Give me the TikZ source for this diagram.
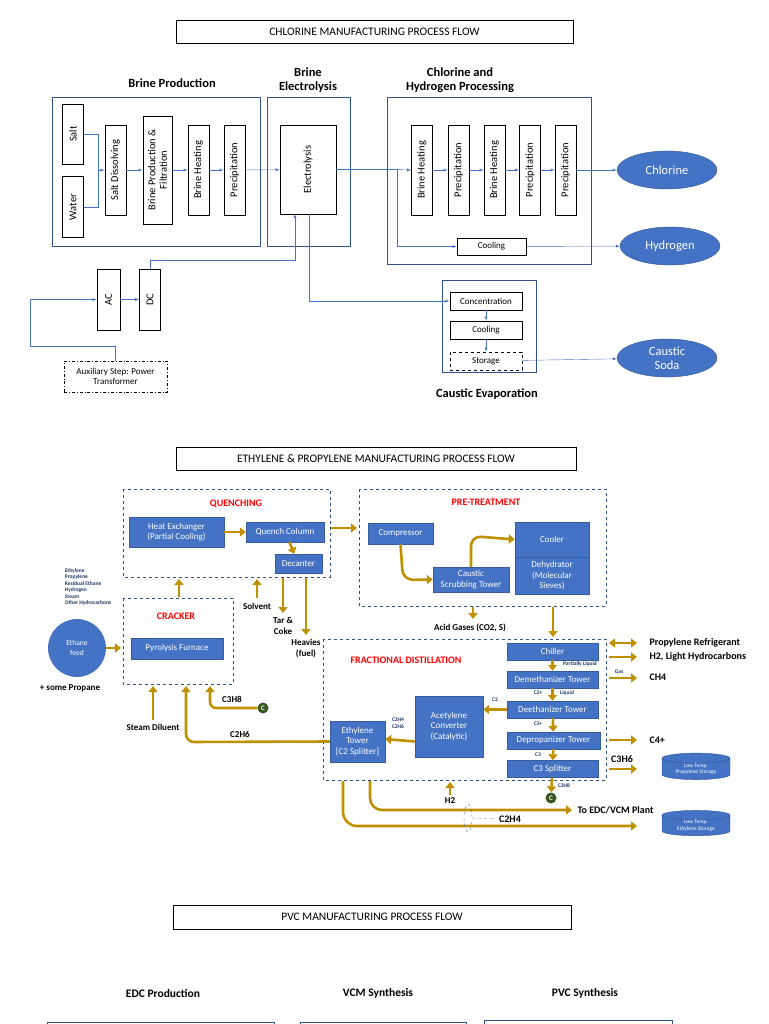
\documentclass[tikz,border=0pt]{standalone}
\usepackage{fontspec}
\setmainfont{Carlito}
\usetikzlibrary{shapes.geometric,arrows.meta}
\definecolor{boxblue}{HTML}{4472C4}
\definecolor{edgeblue}{HTML}{2F528F}
\definecolor{gold}{HTML}{BF9000}
\definecolor{cgreen}{HTML}{385723}
\definecolor{navy}{HTML}{1F3864}
\begin{document}
\begin{tikzpicture}[x=1pt,y=-1pt,
	title/.style={draw, thick, minimum width=397pt, minimum height=23pt, font=\fontsize{11.5}{13}\selectfont},
	frame/.style={draw=edgeblue, thick},
	head/.style={font=\bfseries\fontsize{12.5}{14}\selectfont, align=center},
	vbox/.style={draw, thick, rotate=90, minimum height=21pt, inner sep=1pt, align=center, font=\fontsize{10.5}{11.5}\selectfont},
	hbox/.style={draw, thick, minimum width=72pt, minimum height=18pt, inner sep=1pt, font=\fontsize{9}{10}\selectfont},
	prod/.style={ellipse, fill=boxblue, draw=edgeblue, text=white, minimum width=100pt, minimum height=38pt, inner sep=0pt, align=center, font=\fontsize{12.5}{13.5}\selectfont},
	bline/.style={draw=boxblue, -latex},
	unit/.style={fill=boxblue, draw=boxblue!80!black, text=white, inner sep=1pt, align=center, font=\fontsize{9}{10.5}\selectfont},
	zone/.style={draw=edgeblue, dashed},
	zlabel/.style={text=red, font=\bfseries\fontsize{10}{11}\selectfont},
	flow/.style={draw=gold, line width=2.6pt, -{Triangle[length=6pt,width=9pt]}},
	lbl/.style={font=\bfseries\fontsize{9}{10.5}\selectfont, align=center},
	tiny/.style={text=navy, font=\bfseries\fontsize{5.5}{6.5}\selectfont, align=left},
	tank/.style={cylinder, shape border rotate=90, aspect=0.25, fill=boxblue, draw=edgeblue, text=white, minimum width=68pt, minimum height=25pt, inner sep=0pt, align=center, font=\fontsize{5.5}{6.5}\selectfont},
	cnode/.style={circle, fill=cgreen, text=white, inner sep=0pt, minimum size=11pt, font=\bfseries\fontsize{7}{7}\selectfont}]
\useasboundingbox (0,0) rectangle (768,1024);

% chlorine
\node[title] (t1) at (374.5,31.5) {CHLORINE MANUFACTURING PROCESS FLOW};
\draw[frame] (52,97) rectangle (260,246);
\draw[frame] (267,97) rectangle (350,246);
\draw[frame] (387,97) rectangle (591,264);
\draw[frame] (442,280) rectangle (536,372);
\node[head] at (172,83) {Brine Production};
\node[head] at (308,80) {Brine\\Electrolysis};
\node[head] at (460,80) {Chlorine and\\Hydrogen Processing};
\node[head] at (487,394) {Caustic Evaporation};

\node[vbox, minimum width=60pt] (salt) at (73,134) {Salt};
\node[vbox, minimum width=61pt] (water) at (73,207) {Water};
\node[vbox, minimum width=90pt] (sd) at (115.5,170) {Salt Dissolving};
\node[vbox, minimum width=108pt, minimum height=29pt] (bpf) at (157.5,170) {Brine Production \&\\Filtration};
\node[vbox, minimum width=90pt] (bh1) at (198.5,170) {Brine Heating};
\node[vbox, minimum width=90pt] (pr1) at (234.5,170) {Precipitation};
\node[vbox, minimum width=89pt, minimum height=56pt] (elec) at (308,169.5) {Electrolysis};
\node[vbox, minimum width=90pt] (bh2) at (422,170) {Brine Heating};
\node[vbox, minimum width=90pt] (pr2) at (458.5,170) {Precipitation};
\node[vbox, minimum width=90pt] (bh3) at (494.5,170) {Brine Heating};
\node[vbox, minimum width=90pt] (pr3) at (530,170) {Precipitation};
\node[vbox, minimum width=90pt] (pr4) at (565.5,170) {Precipitation};
\node[hbox, minimum width=69pt, minimum height=17pt] (cool1) at (491.5,246.5) {Cooling};
\node[hbox] (conc) at (486,301) {Concentration};
\node[hbox] (cool2) at (486,330) {Cooling};
\node[hbox, dashed] (stor) at (486,361) {Storage};
\node[vbox, minimum width=61pt, minimum height=23pt] (ac) at (108.5,299.5) {AC};
\node[vbox, minimum width=61pt] (dc) at (150,299.5) {DC};
\node[draw, thick, dash dot, minimum width=103pt, minimum height=31pt, align=center, font=\fontsize{9}{10.5}\selectfont] (aux) at (115.5,376.5) {Auxiliary Step: Power\\Transformer};
\node[prod] (chl) at (667,170) {Chlorine};
\node[prod] (hyd) at (670,246) {Hydrogen};
\node[prod] (soda) at (667,358) {Caustic\\Soda};

\coordinate (j1) at (98,170);
\draw[draw=boxblue] (salt.south) -| (j1);
\draw[draw=boxblue] (water.south) -| (j1);
\draw[bline] (j1) -- (sd.north);
\draw[bline] (sd) -- (bpf);
\draw[bline] (bpf) -- (bh1);
\draw[bline] (bh1) -- (pr1);
\draw[bline] (pr1) -- (elec);
\coordinate (j2) at (397,169.5);
\draw[draw=boxblue] (elec.south) -- (j2);
\draw[bline] (j2) -- (bh2.north);
\draw[bline] (j2) |- (cool1);
\draw[bline] (bh2) -- (pr2);
\draw[bline] (pr2) -- (bh3);
\draw[bline] (bh3) -- (pr3);
\draw[bline] (pr3) -- (pr4);
\draw[bline] (pr4) -- (chl);
\draw[bline] (cool1) -- (hyd);
\draw[bline] (elec.west -| 309,0) |- (conc);
\draw[bline] (conc) -- (cool2);
\draw[bline] (cool2) -- (stor);
\draw[bline] (stor) -- (soda);
\draw[bline] (dc.east) |- (295,260) -- (295,214);
\draw[bline] (ac) -- (dc);
\draw[bline] (aux.north) |- (30,346) |- (ac.north);

% ethylene
\node[title, minimum width=400pt] (t2) at (376,458.5) {ETHYLENE \& PROPYLENE MANUFACTURING PROCESS FLOW};
\draw[zone] (123,489) rectangle (330,577);
\draw[zone] (359,489) rectangle (606,606);
\draw[zone] (123,598) rectangle (233,684);
\draw[zone] (323,639) rectangle (606,780);
\node[zlabel] at (236,504) {QUENCHING};
\node[zlabel] at (486,502) {PRE-TREATMENT};
\node[zlabel] at (176,616) {CRACKER};
\node[zlabel] at (406,660) {FRACTIONAL DISTILLATION};

\node[unit, minimum width=95pt, minimum height=30pt] (hex) at (176.5,532) {Heat Exchanger\\(Partial Cooling)};
\node[unit, minimum width=78pt, minimum height=20pt] (qc) at (285,532) {Quench Column};
\node[unit, minimum width=47pt, minimum height=19pt] (dec) at (298.5,563.5) {Decanter};
\node[unit, minimum width=65pt, minimum height=21pt] (comp) at (400.5,533.5) {Compressor};
\node[unit, minimum width=76pt, minimum height=25pt] (cst) at (471,579.5) {Caustic\\Scrubbing Tower};
\node[unit, minimum width=74pt, minimum height=35pt] (cooler) at (552,539.5) {Cooler};
\node[unit, minimum width=74pt, minimum height=37pt] (dehy) at (552,575.5) {Dehydrator\\(Molecular\\Sieves)};
\node[unit, minimum width=92pt, minimum height=21pt] (pyro) at (177,648.5) {Pyrolysis Furnace};
\node[circle, fill=boxblue, text=white, minimum size=58pt, align=center, font=\fontsize{7.5}{9.5}\selectfont] (feed) at (77,648) {Ethane\\feed};
\node[lbl] (prop) at (70,688) {+ some Propane};
\node[tiny] (gases) at (88,587) {Ethylene\\Propylene\\Residual Ethane\\Hydrogen\\Steam\\Other Hydrocarbons};

\node[unit, minimum width=91pt, minimum height=17pt] (chill) at (552.5,651.5) {Chiller};
\node[unit, minimum width=91pt, minimum height=17pt] (demeth) at (552.5,679.5) {Demethanizer Tower};
\node[unit, minimum width=91pt, minimum height=17pt] (deeth) at (552.5,709.5) {Deethanizer Tower};
\node[unit, minimum width=93pt, minimum height=17pt] (deprop) at (553.5,740.5) {Depropanizer Tower};
\node[unit, minimum width=91pt, minimum height=17pt] (c3s) at (552.5,769) {C3 Splitter};
\node[unit, minimum width=68pt, minimum height=61pt] (acet) at (449,726.5) {Acetylene\\Converter\\(Catalytic)};
\node[unit, minimum width=55pt, minimum height=41pt] (ethy) at (357.5,741.5) {Ethylene\\Tower\\{[C2 Splitter]}};
\node[tank] (ptank) at (696,769) {Low Temp.\\Propylene Storage};
\node[tank] (etank) at (696,825.5) {Low Temp.\\Ethylene Storage};
\node[cnode] (cc1) at (263,708) {C};
\node[cnode] (cc2) at (551,798) {C};

\draw[flow] (hex) -- (qc);
\draw[flow] (qc) -- (dec);
\draw[flow] (331,528) -- (357,528);
\draw[flow] (feed) -- (121,648);
\draw[flow] (179,597) -- (179,579);
\draw[flow] (257,598) -- (257,579) node[pos=0, below, lbl, text=black, yshift=-1pt] (solv) {Solvent};
\draw[flow] (283,578) -- (283,613) node[below, lbl] (tar) {Tar \&\\Coke};
\draw[flow] (306,578) -- (306,635) node[below, lbl] (heavy) {Heavies\\(fuel)};
\draw[flow] (153,720) -- (153,686) node[pos=0, below, lbl] (steam) {Steam Diluent};
\draw[flow, rounded corners=8pt] (ethy.west) -- (186,742) -- (186,686);
\node[lbl] (lc2h6) at (240,734) {C2H6};
\draw[flow, rounded corners=6pt] (cc1) -- (210,708) -- (210,686);
\node[lbl] (lc3h8) at (232,699) {C3H8};
\draw[flow, rounded corners=10pt] (comp.south) -- (403,580) -- (cst.west);
\draw[flow, rounded corners=10pt] (cst.north) -- (471,536) -- (cooler.west);
\draw[flow] (473,607) -- (473,619);
\node[lbl] (acid) at (470,628) {Acid Gases (CO2, S)};
\draw[flow] (553,607) -- (553,637);

\draw[draw=gold, line width=2.6pt, {Triangle[length=6pt,width=9pt]}-{Triangle[length=6pt,width=9pt]}] (609,643) -- (637,643);
\node[lbl, anchor=west, font=\bfseries\fontsize{10}{11}\selectfont] (lref) at (646,643) {Propylene Refrigerant};
\draw[flow] (609,657) -- (637,657);
\node[lbl, anchor=west, font=\bfseries\fontsize{10}{11}\selectfont] (lh2) at (646,657) {H2, Light Hydrocarbons};
\draw[flow] (609,678) -- (637,678);
\node[lbl, anchor=west, font=\bfseries\fontsize{10}{11}\selectfont] (lch4) at (646,677) {CH4};
\node[tiny] (lgas) at (619,672) {Gas};
\draw[flow] (609,740) -- (637,740);
\node[lbl, anchor=west, font=\bfseries\fontsize{10}{11}\selectfont] (lc4) at (646,740) {C4+};
\draw[flow] (609,769) -- (637,769);
\node[lbl, font=\bfseries\fontsize{10}{11}\selectfont] (lc3h6) at (622,759) {C3H6};

\draw[flow] (chill) -- (demeth);
\node[tiny] at (580,664) {Partially Liquid};
\draw[flow] (demeth) -- (deeth);
\node[tiny] at (538,693) {C2+};
\node[tiny] at (567,693) {Liquid};
\draw[flow] (deeth) -- (deprop);
\node[tiny] at (538,724) {C3+};
\draw[flow] (deprop) -- (c3s);
\node[tiny] at (538,755) {C3};
\draw[flow] (c3s) -- (cc2);
\node[tiny] at (564,786) {C3H8};
\draw[flow] (deeth.west) -- (acet.east |- deeth.west);
\node[tiny] at (495,700) {C2};
\draw[flow] (acet.west |- ethy) -- (ethy.east |- 0,739);
\node[tiny] at (398,723) {C2H4\\C2H6};
\draw[flow] (450,795) -- (450,782);
\node[lbl] (lh2b) at (450,801) {H2};
\draw[flow, rounded corners=12pt] (370,781) -- (370,810) -- (572,810);
\node[lbl, anchor=west, font=\bfseries\fontsize{10}{11}\selectfont] (ledc) at (574,810) {To EDC/VCM Plant};
\draw[flow, rounded corners=14pt] (343,781) -- (343,826) -- (637,826);
\node[ellipse, draw=boxblue, dashed, minimum width=8pt, minimum height=28pt, inner sep=0pt] (ring) at (468,818) {};
\node[lbl, font=\bfseries\fontsize{10}{11}\selectfont] (lc2h4) at (510,819) {C2H4};
\draw[draw=boxblue!60, dashed] (ring) -- (lc2h4);

% pvc
\node[title, minimum width=398pt, minimum height=24pt] (t3) at (372,917) {PVC MANUFACTURING PROCESS FLOW};
\node[head, font=\bfseries\fontsize{11.5}{13}\selectfont] at (163,993) {EDC Production};
\node[head, font=\bfseries\fontsize{11.5}{13}\selectfont] at (378,993) {VCM Synthesis};
\node[head, font=\bfseries\fontsize{11.5}{13}\selectfont] at (585,993) {PVC Synthesis};
\draw[frame] (47,1040) |- (274,1022) -- (274,1040);
\draw[frame] (300,1040) |- (466,1022) -- (466,1040);
\draw[frame] (484,1040) |- (672,1020) -- (672,1040);
\end{tikzpicture}
\end{document}
